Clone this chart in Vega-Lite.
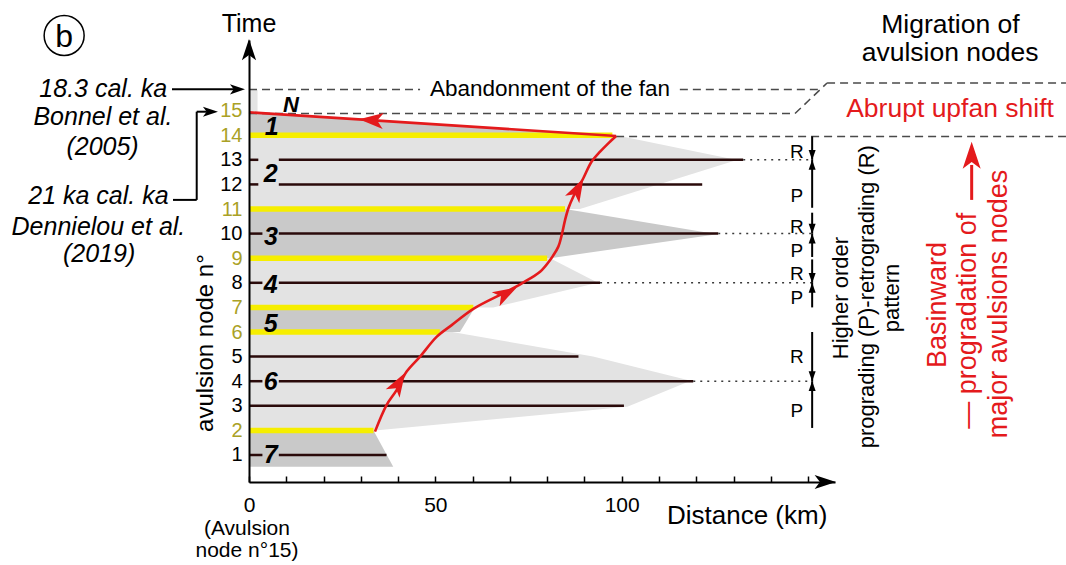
{
  "$schema": "https://vega.github.io/schema/vega-lite/v6.json",
  "width": 586,
  "height": 442,
  "autosize": {"type": "none"},
  "padding": {"left": 249, "top": 40, "right": 231, "bottom": 83},
  "background": "white",
  "config": {"view": {"stroke": null}, "font": "Liberation Sans"},
  "datasets": {
    "lobes": [
      {"lobe": "N", "shade": "#e4e4e4", "y": 14.93, "x": 2.3},
      {"lobe": "N", "shade": "#e4e4e4", "y": 15.84, "x": 2.3},
      {"lobe": "1", "shade": "#c9c9c9", "y": 14.0, "x": 98.5},
      {"lobe": "1", "shade": "#c9c9c9", "y": 14.93, "x": 0},
      {"lobe": "2", "shade": "#e3e3e3", "y": 11.0, "x": 88.8},
      {"lobe": "2", "shade": "#e3e3e3", "y": 12.99, "x": 130.9},
      {"lobe": "2", "shade": "#e3e3e3", "y": 14.0, "x": 98.5},
      {"lobe": "3", "shade": "#c9c9c9", "y": 9.0, "x": 80.8},
      {"lobe": "3", "shade": "#c9c9c9", "y": 9.97, "x": 125.6},
      {"lobe": "3", "shade": "#c9c9c9", "y": 11.0, "x": 84.8},
      {"lobe": "4", "shade": "#e3e3e3", "y": 7.0, "x": 65.5},
      {"lobe": "4", "shade": "#e3e3e3", "y": 8.0, "x": 93.6},
      {"lobe": "4", "shade": "#e3e3e3", "y": 9.0, "x": 80.8},
      {"lobe": "5", "shade": "#c9c9c9", "y": 6.0, "x": 56.6},
      {"lobe": "5", "shade": "#c9c9c9", "y": 7.0, "x": 60.6},
      {"lobe": "6", "shade": "#e3e3e3", "y": 2.0, "x": 33.8},
      {"lobe": "6", "shade": "#e3e3e3", "y": 2.96, "x": 101.5},
      {"lobe": "6", "shade": "#e3e3e3", "y": 4.02, "x": 118.5},
      {"lobe": "6", "shade": "#e3e3e3", "y": 5.0, "x": 92.3},
      {"lobe": "6", "shade": "#e3e3e3", "y": 6.0, "x": 54.5},
      {"lobe": "7", "shade": "#c9c9c9", "y": 0.52, "x": 38.7},
      {"lobe": "7", "shade": "#c9c9c9", "y": 2.0, "x": 33.4}
    ],
    "seg": [
      {"k": "yel", "x": 0, "x2": 33.4, "y": 2, "y2": 2},
      {"k": "yel", "x": 0, "x2": 51.2, "y": 6, "y2": 6},
      {"k": "yel", "x": 0, "x2": 60.2, "y": 7, "y2": 7},
      {"k": "yel", "x": 0, "x2": 80.0, "y": 9, "y2": 9},
      {"k": "yel", "x": 0, "x2": 84.8, "y": 11, "y2": 11},
      {"k": "yel", "x": 0, "x2": 97.5, "y": 14, "y2": 14},
      {"k": "blk", "x": 0, "x2": 3.6, "y": 1, "y2": 1},
      {"k": "blk", "x": 8.0, "x2": 36.9, "y": 1, "y2": 1},
      {"k": "blk", "x": 0, "x2": 100.6, "y": 3, "y2": 3},
      {"k": "blk", "x": 0, "x2": 3.6, "y": 4, "y2": 4},
      {"k": "blk", "x": 8.0, "x2": 119.2, "y": 4, "y2": 4},
      {"k": "blk", "x": 0, "x2": 88.4, "y": 5, "y2": 5},
      {"k": "blk", "x": 0, "x2": 3.6, "y": 8, "y2": 8},
      {"k": "blk", "x": 8.0, "x2": 94.2, "y": 8, "y2": 8},
      {"k": "blk", "x": 0, "x2": 3.6, "y": 10, "y2": 10},
      {"k": "blk", "x": 8.0, "x2": 125.9, "y": 10, "y2": 10},
      {"k": "blk", "x": 0, "x2": 2.5, "y": 12, "y2": 12},
      {"k": "blk", "x": 8.0, "x2": 121.6, "y": 12, "y2": 12},
      {"k": "blk", "x": 0, "x2": 2.5, "y": 13, "y2": 13},
      {"k": "blk", "x": 8.0, "x2": 132.6, "y": 13, "y2": 13},
      {"k": "dash", "x": 0, "x2": 45.9, "y": 15.86, "y2": 15.86},
      {"k": "dash", "x": 115.6, "x2": 153.2, "y": 15.86, "y2": 15.86},
      {"k": "dash", "x": 0, "x2": 146.5, "y": 14.88, "y2": 14.88},
      {"k": "dash", "x": 146.5, "x2": 155.1, "y": 14.88, "y2": 16.12},
      {"k": "dash", "x": 155.1, "x2": 219.2, "y": 16.12, "y2": 16.12},
      {"k": "dash", "x": 98.5, "x2": 219.2, "y": 13.95, "y2": 13.95},
      {"k": "dot", "x": 132.6, "x2": 151.1, "y": 13, "y2": 13},
      {"k": "dot", "x": 125.9, "x2": 151.1, "y": 10, "y2": 10},
      {"k": "dot", "x": 94.2, "x2": 151.1, "y": 8, "y2": 8},
      {"k": "dot", "x": 119.2, "x2": 151.1, "y": 4, "y2": 4},
      {"k": "arr", "x": -20.66, "x2": -4.0, "y": 15.863, "y2": 15.863},
      {"k": "arr", "x": -20.4, "x2": -14.03, "y": 11.37, "y2": 11.37},
      {"k": "arr", "x": -14.03, "x2": -14.03, "y": 11.37, "y2": 14.955},
      {"k": "arr", "x": -14.03, "x2": -11.3, "y": 14.955, "y2": 14.955},
      {"k": "arr", "x": 151.1, "x2": 151.1, "y": 13.95, "y2": 13.0},
      {"k": "arr", "x": 151.1, "x2": 151.1, "y": 11.05, "y2": 13.0},
      {"k": "arr", "x": 151.1, "x2": 151.1, "y": 10.85, "y2": 10.0},
      {"k": "arr", "x": 151.1, "x2": 151.1, "y": 9.05, "y2": 10.0},
      {"k": "arr", "x": 151.1, "x2": 151.1, "y": 8.95, "y2": 8.0},
      {"k": "arr", "x": 151.1, "x2": 151.1, "y": 7.0, "y2": 8.0},
      {"k": "arr", "x": 151.1, "x2": 151.1, "y": 6.0, "y2": 4.0},
      {"k": "arr", "x": 151.1, "x2": 151.1, "y": 2.1, "y2": 4.0},
      {"k": "red", "x": 193.9, "x2": 193.9, "y": 12.79, "y2": 11.37}
    ],
    "curve": [
      {"p": "c", "i": 1, "x": 33.8, "y": 1.95},
      {"p": "c", "i": 2, "x": 36.9, "y": 3.03},
      {"p": "c", "i": 3, "x": 39.6, "y": 3.64},
      {"p": "c", "i": 4, "x": 42.3, "y": 4.39},
      {"p": "c", "i": 5, "x": 45.9, "y": 5.0},
      {"p": "c", "i": 6, "x": 50.4, "y": 5.81},
      {"p": "c", "i": 7, "x": 54.3, "y": 6.27},
      {"p": "c", "i": 8, "x": 60.3, "y": 6.95},
      {"p": "c", "i": 9, "x": 69.1, "y": 7.64},
      {"p": "c", "i": 10, "x": 73.2, "y": 7.98},
      {"p": "c", "i": 11, "x": 78.1, "y": 8.45},
      {"p": "c", "i": 12, "x": 80.8, "y": 8.93},
      {"p": "c", "i": 13, "x": 83.0, "y": 9.47},
      {"p": "c", "i": 14, "x": 83.9, "y": 9.94},
      {"p": "c", "i": 15, "x": 84.8, "y": 10.55},
      {"p": "c", "i": 16, "x": 85.7, "y": 11.03},
      {"p": "c", "i": 17, "x": 87.0, "y": 11.5},
      {"p": "c", "i": 18, "x": 89.7, "y": 12.25},
      {"p": "c", "i": 19, "x": 91.9, "y": 12.92},
      {"p": "c", "i": 20, "x": 94.2, "y": 13.33},
      {"p": "c", "i": 21, "x": 96.4, "y": 13.67},
      {"p": "c", "i": 22, "x": 98.5, "y": 13.97},
      {"p": "r", "i": 1, "x": 98.5, "y": 13.97},
      {"p": "r", "i": 2, "x": 0, "y": 14.93}
    ],
    "barbs": [
      {"x": 0, "y": 17.43, "rot": 0, "sz": 560, "c": "black"},
      {"x": 154.3, "y": -0.0976, "rot": 90, "sz": 560, "c": "black"},
      {"x": -3.32, "y": 15.863, "rot": 90, "sz": 280, "c": "black"},
      {"x": -10.57, "y": 14.955, "rot": 90, "sz": 280, "c": "black"},
      {"x": 40.03, "y": 3.874, "rot": 31, "sz": 720, "c": "#e41a1c"},
      {"x": 68.7, "y": 7.545, "rot": 61, "sz": 720, "c": "#e41a1c"},
      {"x": 88.06, "y": 11.77, "rot": 28, "sz": 720, "c": "#e41a1c"},
      {"x": 33.14, "y": 14.61, "rot": 274, "sz": 720, "c": "#e41a1c"},
      {"x": 193.9, "y": 13.126, "rot": 0, "sz": 900, "c": "#e41a1c"}
    ],
    "tris": [
      {"x": 151.1, "y": 13.2, "rot": 180},
      {"x": 151.1, "y": 12.8, "rot": 0},
      {"x": 151.1, "y": 10.2, "rot": 180},
      {"x": 151.1, "y": 9.8, "rot": 0},
      {"x": 151.1, "y": 8.2, "rot": 180},
      {"x": 151.1, "y": 7.8, "rot": 0},
      {"x": 151.1, "y": 4.2, "rot": 180},
      {"x": 151.1, "y": 3.8, "rot": 0}
    ],
    "textCenter": [
      {"t": "Time", "x": 0, "y": 18.195, "fs": 25, "c": "black", "rot": 0},
      {"t": "Abandonment of the fan", "x": 80.76, "y": 15.59, "fs": 22.5, "c": "black", "rot": 0},
      {"t": "Migration of", "x": 188.2, "y": 18.14, "fs": 26.5, "c": "black", "rot": 0},
      {"t": "avulsion nodes", "x": 188.1, "y": 17.02, "fs": 26.5, "c": "black", "rot": 0},
      {"t": "Abrupt upfan shift", "x": 188.1, "y": 14.75, "fs": 26.5, "c": "#e41a1c", "rot": 0},
      {"t": "(Avulsion", "x": -0.54, "y": -2.25, "fs": 21, "c": "black", "rot": 0},
      {"t": "node n°15)", "x": -0.54, "y": -3.14, "fs": 21, "c": "black", "rot": 0},
      {"t": "b", "x": -49.6, "y": 17.57, "fs": 32, "c": "black", "rot": 0},
      {"t": "R", "x": 147.0, "y": 13.06, "fs": 19, "c": "black", "rot": 0},
      {"t": "P", "x": 147.0, "y": 11.3, "fs": 19, "c": "black", "rot": 0},
      {"t": "R", "x": 147.0, "y": 10.01, "fs": 19, "c": "black", "rot": 0},
      {"t": "P", "x": 147.0, "y": 9.06, "fs": 19, "c": "black", "rot": 0},
      {"t": "R", "x": 147.0, "y": 8.11, "fs": 19, "c": "black", "rot": 0},
      {"t": "P", "x": 147.0, "y": 7.14, "fs": 19, "c": "black", "rot": 0},
      {"t": "R", "x": 147.0, "y": 4.73, "fs": 19, "c": "black", "rot": 0},
      {"t": "P", "x": 147.0, "y": 2.56, "fs": 19, "c": "black", "rot": 0},
      {"t": "avulsion node n°", "x": -9.66, "y": 5.55, "fs": 24, "c": "black", "rot": 270},
      {"t": "Higher order", "x": 160.85, "y": 7.38, "fs": 22, "c": "black", "rot": 270},
      {"t": "prograding (P)-retrograding (R)", "x": 167.56, "y": 7.435, "fs": 22, "c": "black", "rot": 270},
      {"t": "pattern", "x": 174.27, "y": 7.38, "fs": 22, "c": "black", "rot": 270},
      {"t": "Basinward", "x": 187.0, "y": 7.1, "fs": 27, "c": "#e41a1c", "rot": 270},
      {"t": "— progradation of", "x": 195.1, "y": 6.455, "fs": 27, "c": "#e41a1c", "rot": 270},
      {"t": "major avulsions nodes", "x": 203.4, "y": 7.14, "fs": 27, "c": "#e41a1c", "rot": 270}
    ],
    "textItalic": [
      {"t": "18.3 cal. ka", "x": -39.1, "y": 15.56},
      {"t": "Bonnel et al.", "x": -39.2, "y": 14.41},
      {"t": "(2005)", "x": -39.3, "y": 13.2},
      {"t": "21 ka cal. ka", "x": -40.4, "y": 11.2},
      {"t": "Dennielou et al.", "x": -40.4, "y": 9.943},
      {"t": "(2019)", "x": -40.2, "y": 8.85}
    ],
    "textLobe": [
      {"t": "N", "x": 11.27, "y": 14.955, "fs": 22},
      {"t": "1", "x": 6.09, "y": 14.0, "fs": 25},
      {"t": "2", "x": 5.85, "y": 12.11, "fs": 25},
      {"t": "3", "x": 5.9, "y": 9.54, "fs": 25},
      {"t": "4", "x": 5.85, "y": 7.57, "fs": 25},
      {"t": "5", "x": 5.85, "y": 6.01, "fs": 25},
      {"t": "6", "x": 5.85, "y": 3.64, "fs": 25},
      {"t": "7", "x": 5.85, "y": 0.663, "fs": 25}
    ]
  },
  "encoding": {
    "x": {
      "field": "x",
      "type": "quantitative",
      "stack": null,
      "scale": {"domain": [0, 157.23], "nice": false, "zero": false},
      "axis": {
        "title": null,
        "grid": false,
        "values": [0, 10, 20, 30, 40, 50, 60, 70, 80, 90, 100, 110, 120, 130, 140, 150],
        "labelExpr": "datum.value === 0 || datum.value === 50 || datum.value === 100 ? datum.label : ''",
        "labelOverlap": false,
        "labelFlush": false,
        "tickSize": -6,
        "tickWidth": 1.5,
        "tickColor": "black",
        "domainColor": "black",
        "domainWidth": 2,
        "labelFont": "Liberation Sans",
        "labelFontSize": 21,
        "labelColor": "black",
        "labelPadding": 18,
        "zindex": 1
      }
    },
    "y": {
      "field": "y",
      "type": "quantitative",
      "stack": null,
      "scale": {"domain": [-0.0976, 17.87], "nice": false, "zero": false},
      "axis": {
        "title": null,
        "grid": false,
        "values": [1, 2, 3, 4, 5, 6, 7, 8, 9, 10, 11, 12, 13, 14, 15],
        "ticks": false,
        "labelOverlap": false,
        "labelFlush": false,
        "labelPadding": 7,
        "labelFont": "Liberation Sans",
        "labelFontSize": 20,
        "labelColor": {
          "condition": {"test": "indexof([2, 6, 7, 9, 11, 14, 15], datum.value) >= 0", "value": "#aaa126"},
          "value": "black"
        },
        "domainColor": "black",
        "domainWidth": 2,
        "zindex": 1
      }
    }
  },
  "layer": [
    {
      "data": {"name": "lobes"},
      "mark": {"type": "area", "orient": "horizontal", "interpolate": "linear"},
      "encoding": {
        "x2": {"datum": 0},
        "detail": {"field": "lobe"},
        "color": {"field": "shade", "type": "nominal", "scale": null}
      }
    },
    {
      "data": {"name": "seg"},
      "transform": [{"filter": "datum.k === 'yel'"}],
      "mark": {"type": "rule", "color": "#f6ee00", "strokeWidth": 5.5, "strokeCap": "butt"},
      "encoding": {"x2": {"field": "x2"}, "y2": {"field": "y2"}}
    },
    {
      "data": {"name": "seg"},
      "transform": [{"filter": "datum.k === 'blk'"}],
      "mark": {"type": "rule", "color": "#2a0a0a", "strokeWidth": 2.5, "strokeCap": "butt"},
      "encoding": {"x2": {"field": "x2"}, "y2": {"field": "y2"}}
    },
    {
      "data": {"name": "seg"},
      "transform": [{"filter": "datum.k === 'dash'"}],
      "mark": {"type": "rule", "color": "#4a4a4a", "strokeWidth": 1.5, "strokeDash": [8, 5]},
      "encoding": {"x2": {"field": "x2"}, "y2": {"field": "y2"}}
    },
    {
      "data": {"name": "seg"},
      "transform": [{"filter": "datum.k === 'dot'"}],
      "mark": {"type": "rule", "color": "#3a3a3a", "strokeWidth": 1.5, "strokeDash": [2, 5]},
      "encoding": {"x2": {"field": "x2"}, "y2": {"field": "y2"}}
    },
    {
      "data": {"name": "seg"},
      "transform": [{"filter": "datum.k === 'arr'"}],
      "mark": {"type": "rule", "color": "black", "strokeWidth": 2},
      "encoding": {"x2": {"field": "x2"}, "y2": {"field": "y2"}}
    },
    {
      "data": {"name": "seg"},
      "transform": [{"filter": "datum.k === 'red'"}],
      "mark": {"type": "rule", "color": "#e41a1c", "strokeWidth": 3},
      "encoding": {"x2": {"field": "x2"}, "y2": {"field": "y2"}}
    },
    {
      "data": {"name": "curve"},
      "mark": {"type": "line", "color": "#e41a1c", "strokeWidth": 2.6, "interpolate": "catmull-rom"},
      "encoding": {
        "detail": {"field": "p"},
        "order": {"field": "i", "type": "quantitative"}
      }
    },
    {
      "data": {"name": "barbs"},
      "mark": {"type": "point", "shape": "M0,-1 L0.6,0.8 L0,0.35 L-0.6,0.8 Z", "filled": true, "opacity": 1, "strokeWidth": 0},
      "encoding": {
        "size": {"field": "sz", "type": "quantitative", "scale": null},
        "angle": {"field": "rot", "type": "quantitative", "scale": null},
        "color": {"field": "c", "type": "nominal", "scale": null}
      }
    },
    {
      "data": {"name": "tris"},
      "mark": {"type": "point", "shape": "M0,-1 L0.7,1 L-0.7,1 Z", "filled": true, "opacity": 1, "strokeWidth": 0, "color": "black", "size": 100},
      "encoding": {
        "angle": {"field": "rot", "type": "quantitative", "scale": null}
      }
    },
    {
      "data": {"values": [{"x": -49.6, "y": 18.053}]},
      "mark": {"type": "point", "shape": "circle", "size": 1600, "filled": false, "stroke": "black", "strokeWidth": 1.5, "opacity": 1}
    },
    {
      "data": {"name": "textCenter"},
      "mark": {"type": "text", "align": "center", "baseline": "alphabetic", "font": "Liberation Sans"},
      "encoding": {
        "text": {"field": "t"},
        "size": {"field": "fs", "type": "quantitative", "scale": null},
        "color": {"field": "c", "type": "nominal", "scale": null},
        "angle": {"field": "rot", "type": "quantitative", "scale": null}
      }
    },
    {
      "data": {"name": "textItalic"},
      "mark": {"type": "text", "align": "center", "baseline": "alphabetic", "font": "Liberation Sans", "fontStyle": "italic", "fontSize": 25, "color": "black"},
      "encoding": {"text": {"field": "t"}}
    },
    {
      "data": {"name": "textLobe"},
      "mark": {"type": "text", "align": "center", "baseline": "alphabetic", "font": "Liberation Sans", "fontStyle": "italic", "fontWeight": "bold", "color": "black"},
      "encoding": {
        "text": {"field": "t"},
        "size": {"field": "fs", "type": "quantitative", "scale": null}
      }
    },
    {
      "data": {"values": [{"t": "Distance (km)", "x": 112.15, "y": -1.805}]},
      "mark": {"type": "text", "align": "left", "baseline": "alphabetic", "font": "Liberation Sans", "fontSize": 26, "color": "black"},
      "encoding": {"text": {"field": "t"}}
    }
  ]
}
